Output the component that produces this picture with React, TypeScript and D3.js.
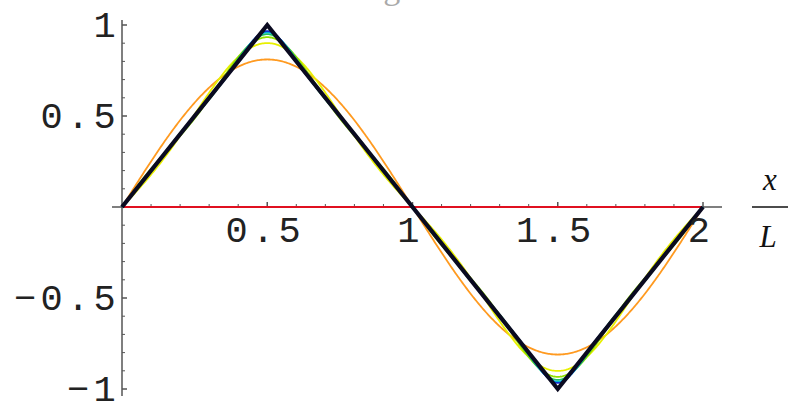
import React from "react";
import * as d3 from "d3";

// Fourier partial sums of a triangle wave on 0 ≤ x/L ≤ 2
const harmonics = [1, 3, 5, 7, 9, 11];
const amplitudes = [0.8106, -0.0901, 0.0324, -0.0165, 0.01, -0.0067];
// number of terms in each drawn partial sum
const termCounts = [0, 1, 2, 3, 4, 5, 6];
const curveColors = ["#e01020", "#ff9a20", "#e8f000", "#90e000", "#20c060", "#00b8d8", "#1030d0"];

// exact triangle wave
const triangleX = [0, 0.5, 1, 1.5, 2];
const triangleY = [0, 1, 0, -1, 0];

const xTicks = [0.5, 1, 1.5, 2];
const xTickLabels = ["0.5", "1", "1.5", "2"];
const yTicks = [1, 0.5, -0.5, -1];
const yTickLabels = ["1", "0.5", "\u22120.5", "\u22121"];

const W = 790;
const H = 408;

export default function App() {
  const x = d3.scaleLinear().domain([0, 2]).range([122, 703]);
  const y = d3.scaleLinear().domain([-1, 1]).range([389, 25]);

  const grid = d3.range(0, 2.0001, 0.004);
  const partial = (n: number) =>
    grid.map((t) => {
      let s = 0;
      for (let k = 0; k < n; k++) s += amplitudes[k] * Math.sin(harmonics[k] * Math.PI * t);
      return [t, s] as [number, number];
    });

  const line = d3
    .line<[number, number]>()
    .x((d) => x(d[0]))
    .y((d) => y(d[1]));

  const triPts = triangleX.map((t, i) => [t, triangleY[i]] as [number, number]);

  const x0 = x(0);
  const y0 = y(0);
  const minorX = d3.range(0.1, 2.05, 0.1).filter((v) => Math.abs(v * 2 - Math.round(v * 2)) > 1e-6);
  const minorY = d3.range(-1, 1.05, 0.1).filter((v) => Math.abs(v * 2 - Math.round(v * 2)) > 1e-6);

  const tickFont = {
    fontFamily: "'Liberation Mono', monospace",
    fontSize: 37,
    letterSpacing: 4.3,
    fill: "#222",
  };

  return (
    <svg
      width={W}
      height={H}
      style={{ position: "absolute", left: 0, top: 0, background: "#fff" }}
    >
      {/* title, mostly above the frame */}
      <text
        x={408}
        y={-1}
        textAnchor="middle"
        fontFamily="'Liberation Serif', serif"
        fontSize={34}
        fill="#aaa"
      >
        Triangle wave
      </text>

      {/* axes */}
      <g stroke="#555" strokeWidth={1.5}>
        <line x1={112} x2={722} y1={y0} y2={y0} />
        <line x1={x0} x2={x0} y1={20} y2={396} />
        {xTicks.map((t) => (
          <line key={"xt" + t} x1={x(t)} x2={x(t)} y1={y0} y2={y0 - 5} />
        ))}
        {minorX.map((t) => (
          <line key={"xm" + t} x1={x(t)} x2={x(t)} y1={y0} y2={y0 - 3} strokeWidth={1} />
        ))}
        {yTicks.map((t) => (
          <line key={"yt" + t} x1={x0} x2={x0 + 5} y1={y(t)} y2={y(t)} />
        ))}
        {minorY.map((t) => (
          <line key={"ym" + t} x1={x0} x2={x0 + 3} y1={y(t)} y2={y(t)} strokeWidth={1} />
        ))}
      </g>

      {/* partial sums */}
      {termCounts.map((n, i) => (
        <path
          key={"s" + n}
          d={line(partial(n)) || ""}
          fill="none"
          stroke={curveColors[i]}
          strokeWidth={1.8}
        />
      ))}
      <path
        d={line(triPts) || ""}
        fill="none"
        stroke="#0a0a20"
        strokeWidth={4.2}
        strokeLinejoin="miter"
      />

      {/* tick labels */}
      {xTicks.map((t, i) => (
        <text key={"xl" + t} x={x(t) - 2} y={y0 + 35} textAnchor="middle" {...tickFont}>
          {xTickLabels[i]}
        </text>
      ))}
      {yTicks.map((t, i) => (
        <text key={"yl" + t} x={120} y={y(t) + 12} textAnchor="end" {...tickFont}>
          {yTickLabels[i]}
        </text>
      ))}

      {/* axis label x/L */}
      <g fontFamily="'Liberation Serif', serif" fontStyle="italic" fontSize={31} fill="#111">
        <text x={770} y={190} textAnchor="middle">x</text>
        <line x1={752} x2={788} y1={y0} y2={y0} stroke="#111" strokeWidth={1.5} />
        <text x={768} y={247} textAnchor="middle">L</text>
      </g>
    </svg>
  );
}
